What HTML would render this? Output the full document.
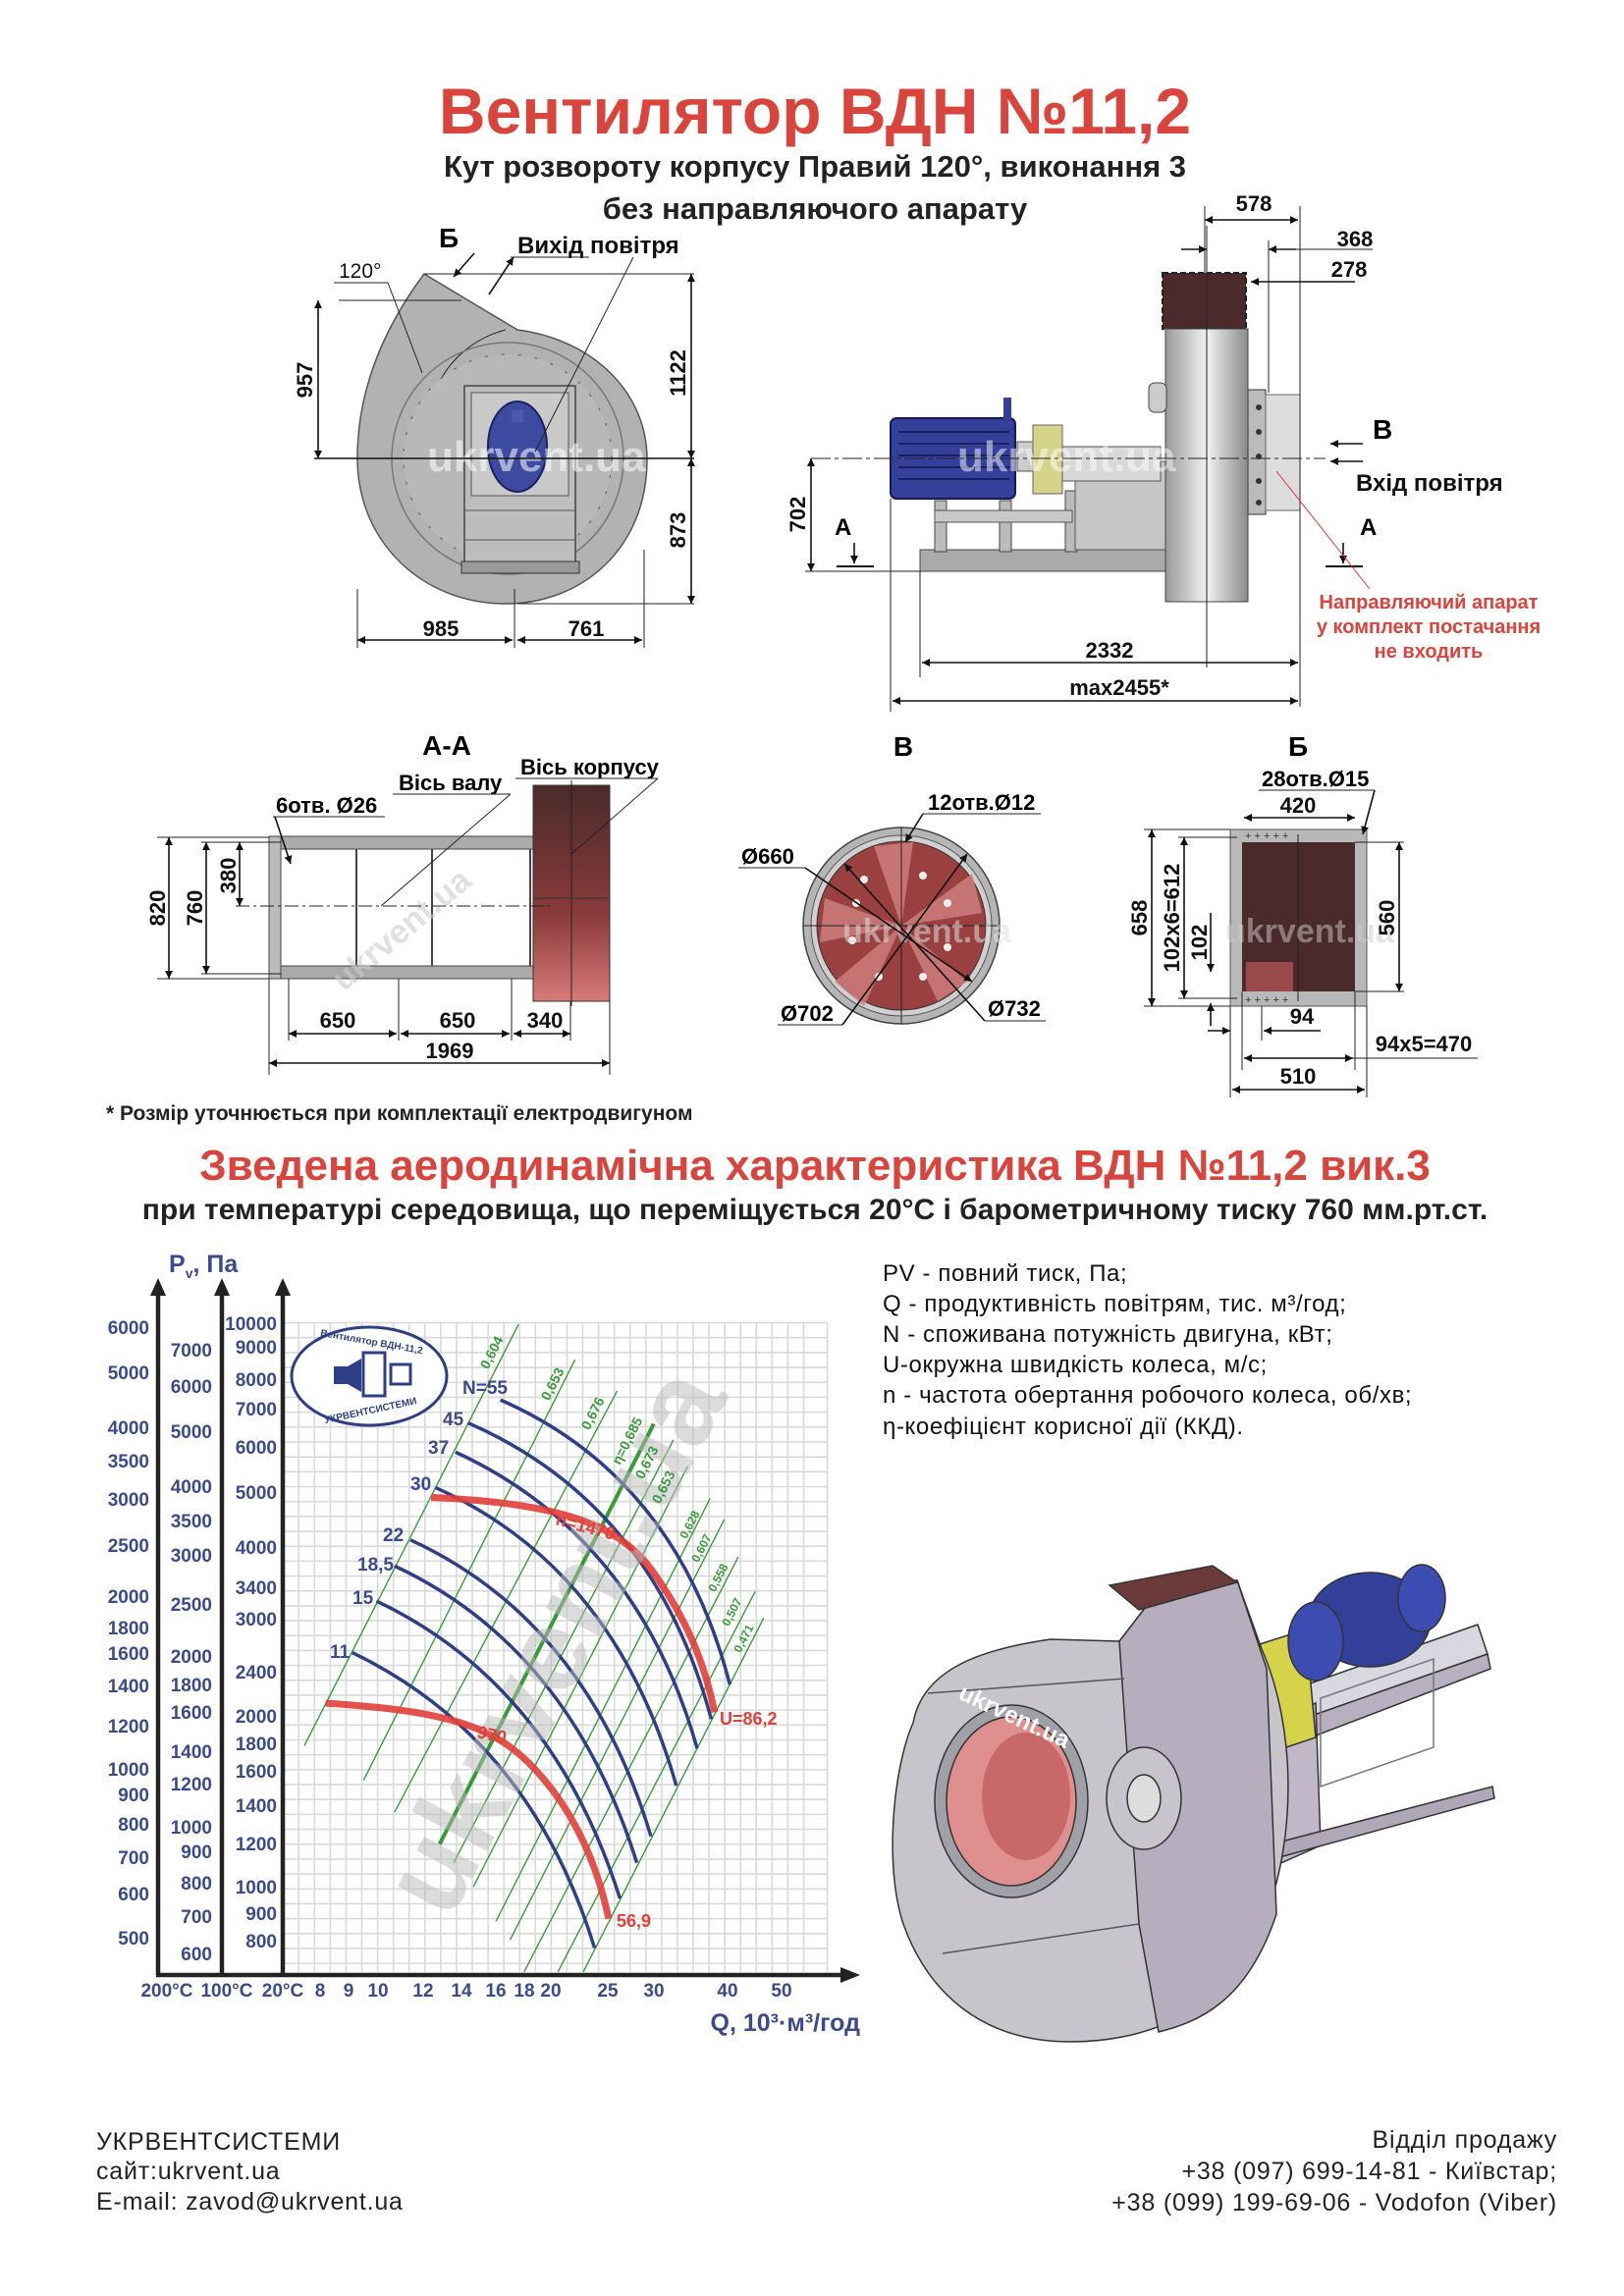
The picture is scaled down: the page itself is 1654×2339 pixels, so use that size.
<!DOCTYPE html>
<html><head><meta charset="utf-8"><style>
html,body{margin:0;padding:0;background:#fff}
svg{display:block}
text{font-family:"Liberation Sans",Arial,sans-serif}
.nv{fill:#3b4a8c;font-weight:bold;font-size:19px}
.dim{font-size:22px;fill:#111;font-weight:bold}
.ln{stroke:#111;stroke-width:1.6;fill:none}
.thin{stroke:#222;stroke-width:1;fill:none}
</style></head><body>
<svg width="1654" height="2339" viewBox="0 0 1654 2339" xmlns="http://www.w3.org/2000/svg">
<defs>
<marker id="ar" viewBox="0 0 10 10" refX="10" refY="5" markerWidth="12" markerHeight="8" orient="auto-start-reverse" markerUnits="userSpaceOnUse"><path d="M0,0 L10,5 L0,10 Z" fill="#111"/></marker>
<linearGradient id="gbrown" x1="0" y1="0" x2="0" y2="1"><stop offset="0" stop-color="#4a2a2a"/><stop offset="0.6" stop-color="#8a3a3a"/><stop offset="1" stop-color="#d87a7a"/></linearGradient>
<linearGradient id="gside" x1="0" y1="0" x2="1" y2="0"><stop offset="0" stop-color="#999"/><stop offset="0.5" stop-color="#f2f2f2"/><stop offset="1" stop-color="#8a8a8a"/></linearGradient>
</defs>

<!-- TITLES -->
<text x="830" y="136" text-anchor="middle" font-size="66" font-weight="bold" fill="#d9443d">Вентилятор  ВДН №11,2</text>
<text x="830" y="180" text-anchor="middle" font-size="31" font-weight="bold" fill="#222">Кут розвороту корпусу Правий 120°, виконання 3</text>
<text x="830" y="223" text-anchor="middle" font-size="31" font-weight="bold" fill="#222">без направляючого апарату</text>

<!-- FRONT VIEW -->
<g>
<path d="M432,279 L527,336 C604,346 660,400 659,470 C658,560 592,615 515,615 C430,615 364,552 364,467 C364,400 388,338 432,279 Z" fill="#b2b2b2" stroke="#555" stroke-width="1.5"/>
<path d="M515,336 C480,345 455,370 445,395" class="thin"/>
<circle cx="517" cy="467" r="118" fill="none" stroke="#777" stroke-width="1.5"/>
<circle cx="517" cy="467" r="106" fill="#b8b8b8" stroke="#666" stroke-width="1.2" stroke-dasharray="3 14"/>
<rect x="473" y="393" width="113" height="190" fill="#bdbdbd" stroke="#444" stroke-width="1.5"/>
<rect x="480" y="400" width="99" height="105" fill="#c9c9c9" stroke="#555"/>
<line x1="473" y1="520" x2="586" y2="520" stroke="#555"/><line x1="473" y1="550" x2="586" y2="550" stroke="#555"/>
<rect x="470" y="572" width="120" height="12" fill="#999" stroke="#333"/>
<ellipse cx="527" cy="455" rx="30" ry="46" fill="#3c4aa0" stroke="#1c2060" stroke-width="2"/>
<rect x="521" y="418" width="12" height="12" fill="#4a58b0"/>
<text x="435" y="480" font-size="44" font-weight="bold" fill="#fff" opacity="0.55">ukrvent.ua</text>
<line x1="320" y1="467" x2="707" y2="467" class="ln"/>
<line x1="432" y1="279" x2="707" y2="279" class="thin"/>
<line x1="345" y1="306" x2="470" y2="306" class="thin"/>
<line x1="527" y1="615" x2="707" y2="615" class="thin"/>
<line x1="324" y1="306" x2="324" y2="467" class="ln" marker-start="url(#ar)" marker-end="url(#ar)"/>
<text transform="translate(318,387) rotate(-90)" text-anchor="middle" class="dim">957</text>
<line x1="704" y1="279" x2="704" y2="467" class="ln" marker-start="url(#ar)" marker-end="url(#ar)"/>
<line x1="704" y1="467" x2="704" y2="615" class="ln" marker-start="url(#ar)" marker-end="url(#ar)"/>
<text transform="translate(698,380) rotate(-90)" text-anchor="middle" class="dim">1122</text>
<text transform="translate(698,540) rotate(-90)" text-anchor="middle" class="dim">873</text>
<line x1="364" y1="600" x2="364" y2="660" class="thin"/><line x1="524" y1="600" x2="524" y2="660" class="thin"/><line x1="656" y1="560" x2="656" y2="660" class="thin"/>
<line x1="364" y1="652" x2="522" y2="652" class="ln" marker-start="url(#ar)" marker-end="url(#ar)"/>
<line x1="527" y1="652" x2="654" y2="652" class="ln" marker-start="url(#ar)" marker-end="url(#ar)"/>
<text x="449" y="648" text-anchor="middle" class="dim">985</text>
<text x="597" y="648" text-anchor="middle" class="dim">761</text>
<text x="447" y="252" font-size="28" font-weight="bold">Б</text>
<line x1="483" y1="258" x2="462" y2="282" class="ln" marker-end="url(#ar)"/>
<text x="527" y="258" font-size="24" fill="#111" font-weight="bold">Вихід повітря</text>
<line x1="523" y1="262" x2="498" y2="300" class="ln" marker-start="url(#ar)"/>
<line x1="520" y1="262" x2="600" y2="262" class="thin"/>
<text x="345" y="283" font-size="21" fill="#111">120°</text>
<line x1="340" y1="288" x2="395" y2="288" class="thin"/>
<line x1="395" y1="288" x2="430" y2="380" class="thin"/>
<line x1="645" y1="262" x2="545" y2="460" class="thin"/>
</g>

<!-- SIDE VIEW -->
<g>
<rect x="937" y="560" width="255" height="22" fill="#aaa" stroke="#444"/>
<rect x="952" y="510" width="12" height="52" fill="#bbb" stroke="#444"/>
<rect x="1018" y="510" width="12" height="52" fill="#bbb" stroke="#444"/>
<rect x="1085" y="500" width="12" height="62" fill="#bbb" stroke="#444"/>
<rect x="952" y="520" width="140" height="12" fill="#c8c8c8" stroke="#555"/>
<rect x="1095" y="470" width="92" height="90" fill="#c5c5c5" stroke="#555"/>
<rect x="907" y="426" width="127" height="82" rx="6" fill="#34409a" stroke="#141a55" stroke-width="2"/>
<g stroke="#1a2060" stroke-width="2"><line x1="915" y1="440" x2="1028" y2="440"/><line x1="915" y1="452" x2="1028" y2="452"/><line x1="915" y1="464" x2="1028" y2="464"/><line x1="915" y1="476" x2="1028" y2="476"/><line x1="915" y1="488" x2="1028" y2="488"/></g>
<rect x="1022" y="405" width="8" height="22" fill="#34409a"/>
<rect x="1036" y="450" width="20" height="30" fill="#ccc" stroke="#555"/>
<rect x="1052" y="433" width="30" height="70" fill="#d6d48a" stroke="#666"/>
<rect x="1082" y="455" width="100" height="35" fill="#d8d8d8" stroke="#555"/>
<rect x="1184" y="278" width="85" height="57" fill="#4a2a2a" stroke="#222" stroke-width="2" stroke-dasharray="6 3"/>
<rect x="1187" y="335" width="84" height="278" fill="url(#gside)" stroke="#444"/>
<line x1="1229" y1="230" x2="1229" y2="680" class="thin"/>
<rect x="1170" y="390" width="18" height="30" rx="6" fill="#ccc" stroke="#444"/>
<rect x="1271" y="397" width="18" height="127" fill="#bbb" stroke="#333"/>
<rect x="1289" y="402" width="35" height="118" fill="#ddd" stroke="#666"/>
<g fill="#333"><circle cx="1282" cy="415" r="3"/><circle cx="1282" cy="440" r="3"/><circle cx="1282" cy="465" r="3"/><circle cx="1282" cy="490" r="3"/><circle cx="1282" cy="512" r="3"/></g>
<text x="975" y="480" font-size="44" font-weight="bold" fill="#fff" opacity="0.5">ukrvent.ua</text>
<line x1="826" y1="467" x2="1350" y2="467" class="thin" stroke-dasharray="20 4 4 4"/>
<line x1="1227" y1="210" x2="1227" y2="278" class="thin"/><line x1="1324" y1="210" x2="1324" y2="720" class="thin"/>
<line x1="1227" y1="224" x2="1322" y2="224" class="ln" marker-start="url(#ar)" marker-end="url(#ar)"/>
<text x="1277" y="215" text-anchor="middle" class="dim">578</text>
<line x1="1203" y1="254" x2="1229" y2="254" class="ln" marker-end="url(#ar)"/><line x1="1320" y1="254" x2="1292" y2="254" class="ln" marker-end="url(#ar)"/>
<line x1="1292" y1="254" x2="1398" y2="254" class="thin"/><line x1="1292" y1="245" x2="1292" y2="400" class="thin"/>
<text x="1380" y="251" text-anchor="middle" class="dim">368</text>
<line x1="1380" y1="287" x2="1274" y2="287" class="ln" marker-end="url(#ar)"/>
<text x="1374" y="282" text-anchor="middle" class="dim">278</text>
<text x="1398" y="447" font-size="28" font-weight="bold">В</text>
<line x1="1388" y1="452" x2="1355" y2="452" class="ln" marker-end="url(#ar)"/>
<line x1="1388" y1="470" x2="1355" y2="470" class="ln" marker-end="url(#ar)"/>
<text x="1381" y="500" font-size="24" fill="#111" font-weight="bold">Вхід повітря</text>
<text x="850" y="545" font-size="24" font-weight="bold">А</text>
<line x1="870" y1="553" x2="870" y2="574" class="ln" marker-end="url(#ar)"/><line x1="852" y1="577" x2="890" y2="577" stroke="#111" stroke-width="2"/>
<text x="1385" y="545" font-size="24" font-weight="bold">А</text>
<line x1="1368" y1="553" x2="1368" y2="574" class="ln" marker-end="url(#ar)"/><line x1="1350" y1="577" x2="1388" y2="577" stroke="#111" stroke-width="2"/>
<line x1="1300" y1="480" x2="1395" y2="600" stroke="#d33" stroke-width="1"/>
<line x1="820" y1="582" x2="937" y2="582" class="thin"/>
<line x1="826" y1="467" x2="826" y2="582" class="ln" marker-start="url(#ar)" marker-end="url(#ar)"/>
<text transform="translate(820,524) rotate(-90)" text-anchor="middle" class="dim">702</text>
<text x="1455" y="620" text-anchor="middle" font-size="20" font-weight="bold" fill="#d9443d">Направляючий апарат</text>
<text x="1455" y="645" text-anchor="middle" font-size="20" font-weight="bold" fill="#d9443d">у комплект постачання</text>
<text x="1455" y="670" text-anchor="middle" font-size="20" font-weight="bold" fill="#d9443d">не входить</text>
<line x1="937" y1="582" x2="937" y2="690" class="thin"/><line x1="907" y1="508" x2="907" y2="725" class="thin"/>
<line x1="939" y1="675" x2="1322" y2="675" class="ln" marker-start="url(#ar)" marker-end="url(#ar)"/>
<text x="1130" y="670" text-anchor="middle" class="dim">2332</text>
<line x1="909" y1="714" x2="1322" y2="714" class="ln" marker-start="url(#ar)" marker-end="url(#ar)"/>
<text x="1140" y="708" text-anchor="middle" class="dim">max2455*</text>
</g>

<text x="455" y="769" text-anchor="middle" font-size="28" font-weight="bold">А-А</text>
<text x="920" y="770" text-anchor="middle" font-size="28" font-weight="bold">В</text>
<text x="1322" y="770" text-anchor="middle" font-size="28" font-weight="bold">Б</text>

<!-- A-A -->
<g>
<rect x="274" y="852" width="269" height="145" fill="#fff" stroke="#555"/>
<rect x="274" y="852" width="269" height="13" fill="#aaa" stroke="#444"/>
<rect x="274" y="984" width="269" height="13" fill="#aaa" stroke="#444"/>
<rect x="274" y="852" width="12" height="145" fill="#bbb" stroke="#444"/>
<line x1="363" y1="865" x2="363" y2="984" stroke="#444" stroke-width="2"/>
<line x1="440" y1="865" x2="440" y2="984" stroke="#444" stroke-width="2"/>
<line x1="540" y1="865" x2="540" y2="984" stroke="#444" stroke-width="2"/>
<rect x="543" y="800" width="78" height="220" fill="url(#gbrown)" stroke="#333"/>
<line x1="582" y1="795" x2="582" y2="1025" class="thin"/>
<line x1="543" y1="915" x2="621" y2="915" stroke="#333"/>
<text x="310" y="960" font-size="34" font-weight="bold" fill="#ccc" opacity="0.6" transform="rotate(-40 400 930)">ukrvent.ua</text>
<line x1="240" y1="923" x2="560" y2="923" class="thin" stroke-dasharray="14 4 3 4"/>
<line x1="160" y1="853" x2="274" y2="853" class="thin"/><line x1="160" y1="997" x2="274" y2="997" class="thin"/>
<line x1="172" y1="853" x2="172" y2="997" class="ln" marker-start="url(#ar)" marker-end="url(#ar)"/>
<text transform="translate(168,925) rotate(-90)" text-anchor="middle" class="dim">820</text>
<line x1="205" y1="858" x2="286" y2="858" class="thin"/><line x1="205" y1="992" x2="286" y2="992" class="thin"/>
<line x1="210" y1="858" x2="210" y2="992" class="ln" marker-start="url(#ar)" marker-end="url(#ar)"/>
<text transform="translate(206,925) rotate(-90)" text-anchor="middle" class="dim">760</text>
<line x1="244" y1="858" x2="244" y2="923" class="ln" marker-start="url(#ar)" marker-end="url(#ar)"/>
<text transform="translate(240,892) rotate(-90)" text-anchor="middle" class="dim">380</text>
<text x="281" y="828" font-size="22" font-weight="bold">6отв. Ø26</text><line x1="278" y1="832" x2="392" y2="832" class="thin"/>
<line x1="280" y1="832" x2="296" y2="880" class="ln" marker-end="url(#ar)"/>
<text x="406" y="805" font-size="22" font-weight="bold">Вісь валу</text><line x1="400" y1="809" x2="520" y2="809" class="thin"/>
<line x1="520" y1="809" x2="388" y2="923" class="thin"/>
<text x="530" y="789" font-size="22" font-weight="bold">Вісь корпусу</text><line x1="525" y1="793" x2="670" y2="793" class="thin"/>
<line x1="670" y1="793" x2="582" y2="870" class="thin"/>
<g class="thin"><line x1="274" y1="997" x2="274" y2="1095"/><line x1="294" y1="997" x2="294" y2="1060"/><line x1="406" y1="997" x2="406" y2="1060"/><line x1="521" y1="997" x2="521" y2="1060"/><line x1="581" y1="1020" x2="581" y2="1060"/><line x1="621" y1="1020" x2="621" y2="1095"/></g>
<line x1="294" y1="1053" x2="404" y2="1053" class="ln" marker-start="url(#ar)" marker-end="url(#ar)"/>
<line x1="408" y1="1053" x2="519" y2="1053" class="ln" marker-start="url(#ar)" marker-end="url(#ar)"/>
<line x1="523" y1="1053" x2="581" y2="1053" class="ln" marker-start="url(#ar)" marker-end="url(#ar)"/>
<text x="344" y="1047" text-anchor="middle" class="dim">650</text>
<text x="466" y="1047" text-anchor="middle" class="dim">650</text>
<text x="555" y="1047" text-anchor="middle" class="dim">340</text>
<line x1="274" y1="1083" x2="621" y2="1083" class="ln" marker-start="url(#ar)" marker-end="url(#ar)"/>
<text x="458" y="1078" text-anchor="middle" class="dim">1969</text>
</g>

<!-- B view -->
<g>
<circle cx="918" cy="943" r="100" fill="#b5b5b5" stroke="#444" stroke-width="1.5"/>
<circle cx="918" cy="943" r="92" fill="#d0d0d0" stroke="#555"/>
<circle cx="918" cy="943" r="86" fill="#9b4040" stroke="#333"/>
<g fill="#d08080" opacity="0.8">
<path d="M918,943 L890,862 L930,858 Z"/><path d="M918,943 L990,890 L1000,930 Z"/><path d="M918,943 L985,1000 L955,1020 Z"/><path d="M918,943 L880,1025 L850,1000 Z"/><path d="M918,943 L835,960 L840,915 Z"/>
</g>
<g fill="#eee"><circle cx="880" cy="896" r="4"/><circle cx="940" cy="892" r="4"/><circle cx="965" cy="920" r="4"/><circle cx="965" cy="965" r="4"/><circle cx="940" cy="995" r="4"/><circle cx="895" cy="995" r="4"/><circle cx="868" cy="958" r="4"/><circle cx="872" cy="920" r="4"/></g>
<line x1="918" y1="843" x2="918" y2="1043" class="thin"/><line x1="818" y1="943" x2="1018" y2="943" class="thin"/>
<text x="858" y="960" font-size="34" font-weight="bold" fill="#ddd" opacity="0.55">ukrvent.ua</text>
<text x="755" y="880" font-size="22" font-weight="bold">Ø660</text><line x1="752" y1="884" x2="820" y2="884" class="thin"/>
<line x1="820" y1="884" x2="990" y2="1000" class="ln" marker-end="url(#ar)"/>
<text x="945" y="825" font-size="22" font-weight="bold">12отв.Ø12</text><line x1="940" y1="829" x2="1060" y2="829" class="thin"/>
<line x1="940" y1="829" x2="922" y2="858" class="ln" marker-end="url(#ar)"/>
<text x="795" y="1040" font-size="22" font-weight="bold">Ø702</text><line x1="792" y1="1044" x2="858" y2="1044" class="thin"/>
<line x1="858" y1="1044" x2="985" y2="870" class="ln" marker-end="url(#ar)"/>
<text x="1006" y="1035" font-size="22" font-weight="bold">Ø732</text><line x1="1003" y1="1040" x2="1065" y2="1040" class="thin"/>
<line x1="1003" y1="1040" x2="860" y2="880" class="ln" marker-end="url(#ar)"/>
</g>

<!-- Б view -->
<g>
<rect x="1253" y="845" width="139" height="180" fill="#b8b8b8" stroke="#555"/>
<rect x="1265" y="858" width="115" height="152" fill="#4a2a2a"/>
<rect x="1269" y="980" width="48" height="30" fill="#9a4a4a"/>
<line x1="1322" y1="850" x2="1322" y2="1020" class="thin" stroke="#aaa"/>
<g fill="#333" font-size="11"><text x="1268" y="855">+   +   +   +   +</text><text x="1268" y="1022">+   +   +   +   +</text></g>
<text x="1248" y="960" font-size="34" font-weight="bold" fill="#ccc" opacity="0.5">ukrvent.ua</text>
<text x="1285" y="801" font-size="22" font-weight="bold">28отв.Ø15</text><line x1="1282" y1="805" x2="1400" y2="805" class="thin"/>
<line x1="1400" y1="805" x2="1388" y2="850" class="ln" marker-end="url(#ar)"/>
<line x1="1267" y1="833" x2="1380" y2="833" class="ln" marker-start="url(#ar)" marker-end="url(#ar)"/>
<text x="1322" y="828" text-anchor="middle" class="dim">420</text>
<g class="thin"><line x1="1165" y1="845" x2="1253" y2="845"/><line x1="1165" y1="1025" x2="1253" y2="1025"/><line x1="1200" y1="853" x2="1260" y2="853"/><line x1="1200" y1="1017" x2="1260" y2="1017"/><line x1="1380" y1="858" x2="1430" y2="858"/><line x1="1380" y1="1010" x2="1430" y2="1010"/></g>
<line x1="1173" y1="845" x2="1173" y2="1025" class="ln" marker-start="url(#ar)" marker-end="url(#ar)"/>
<text transform="translate(1168,935) rotate(-90)" text-anchor="middle" class="dim">658</text>
<line x1="1206" y1="853" x2="1206" y2="1017" class="ln" marker-start="url(#ar)" marker-end="url(#ar)"/>
<text transform="translate(1201,935) rotate(-90)" text-anchor="middle" class="dim">102x6=612</text>
<line x1="1233" y1="930" x2="1233" y2="990" class="ln" marker-end="url(#ar)"/>
<line x1="1233" y1="1045" x2="1233" y2="1022" class="ln" marker-end="url(#ar)"/>
<text transform="translate(1229,960) rotate(-90)" text-anchor="middle" class="dim">102</text>
<line x1="1425" y1="858" x2="1425" y2="1010" class="ln" marker-start="url(#ar)" marker-end="url(#ar)"/>
<text transform="translate(1420,935) rotate(-90)" text-anchor="middle" class="dim">560</text>
<g class="thin"><line x1="1253" y1="1025" x2="1253" y2="1118"/><line x1="1392" y1="1025" x2="1392" y2="1118"/><line x1="1265" y1="1010" x2="1265" y2="1090"/><line x1="1380" y1="1010" x2="1380" y2="1090"/><line x1="1285" y1="1025" x2="1285" y2="1060"/></g>
<line x1="1230" y1="1050" x2="1253" y2="1050" class="ln" marker-end="url(#ar)"/>
<line x1="1345" y1="1050" x2="1287" y2="1050" class="ln" marker-end="url(#ar)"/>
<text x="1326" y="1043" text-anchor="middle" class="dim">94</text>
<line x1="1267" y1="1078" x2="1378" y2="1078" class="ln" marker-start="url(#ar)" marker-end="url(#ar)"/>
<line x1="1378" y1="1078" x2="1505" y2="1078" class="thin"/>
<text x="1450" y="1071" text-anchor="middle" class="dim">94x5=470</text>
<line x1="1255" y1="1110" x2="1390" y2="1110" class="ln" marker-start="url(#ar)" marker-end="url(#ar)"/>
<text x="1322" y="1104" text-anchor="middle" class="dim">510</text>
</g>

<text x="108" y="1141" font-size="21" font-weight="bold" fill="#222">* Розмір уточнюється при комплектації електродвигуном</text>
<text x="830" y="1202" text-anchor="middle" font-size="44" font-weight="bold" fill="#d9443d">Зведена аеродинамічна характеристика ВДН №11,2 вик.3</text>
<text x="830" y="1242" text-anchor="middle" font-size="30" font-weight="bold" fill="#222">при температурі середовища, що переміщується 20°C і барометричному тиску 760 мм.рт.ст.</text>

<!-- CHART -->
<g transform="translate(0,1250) scale(0.5740,0.5420)">
<g stroke="#d9d9d9" stroke-width="1.6">
<path vector-effect="non-scaling-stroke" d="M530,180V1400M558,180V1400M586,180V1400M614,180V1400M642,180V1400M670,180V1400M698,180V1400M726,180V1400M754,180V1400M782,180V1400M810,180V1400M838,180V1400M866,180V1400M894,180V1400M922,180V1400M950,180V1400M978,180V1400M1006,180V1400M1034,180V1400M1062,180V1400M1090,180V1400M1118,180V1400M1146,180V1400M1174,180V1400M1202,180V1400M1230,180V1400M1258,180V1400M1286,180V1400M1314,180V1400M1342,180V1400M1370,180V1400M1398,180V1400M1426,180V1400M1468,180V1400"/>
<path vector-effect="non-scaling-stroke" d="M502,180H1468M502,208H1468M502,236H1468M502,264H1468M502,292H1468M502,320H1468M502,348H1468M502,376H1468M502,404H1468M502,432H1468M502,460H1468M502,488H1468M502,516H1468M502,544H1468M502,572H1468M502,600H1468M502,628H1468M502,656H1468M502,684H1468M502,712H1468M502,740H1468M502,768H1468M502,796H1468M502,824H1468M502,852H1468M502,880H1468M502,908H1468M502,936H1468M502,964H1468M502,992H1468M502,1020H1468M502,1048H1468M502,1076H1468M502,1104H1468M502,1132H1468M502,1160H1468M502,1188H1468M502,1216H1468M502,1244H1468M502,1272H1468M502,1300H1468M502,1328H1468M502,1356H1468M502,1384H1468"/>
</g>
<g fill="none" stroke="#3a9a3a" stroke-width="1.4">
<path vector-effect="non-scaling-stroke" d="M540,975L920,183M645,1040L1020,250M700,1100L1095,308M805,1195L1195,400M840,1240L1220,450M880,1305L1260,510M905,1340L1285,550M930,1400L1310,620M990,1400L1340,685M1035,1400L1355,735"/>
</g>
<path vector-effect="non-scaling-stroke" d="M780,1160L1160,370" stroke="#3a9a3a" stroke-width="4" fill="none"/>
<g fill="none" stroke="#2e3f85" stroke-width="3.5">
<path vector-effect="non-scaling-stroke" d="M888,325 Q1200,470 1295,860"/>
<path vector-effect="non-scaling-stroke" d="M830,368 Q1160,520 1262,925"/>
<path vector-effect="non-scaling-stroke" d="M808,423 Q1130,580 1237,980"/>
<path vector-effect="non-scaling-stroke" d="M773,490 Q1090,640 1200,1050"/>
<path vector-effect="non-scaling-stroke" d="M728,588 Q1040,740 1155,1145"/>
<path vector-effect="non-scaling-stroke" d="M700,637 Q1010,790 1130,1195"/>
<path vector-effect="non-scaling-stroke" d="M668,703 Q980,860 1100,1262"/>
<path vector-effect="non-scaling-stroke" d="M625,800 Q940,960 1055,1355"/>
</g>
<g fill="none" stroke="#e0403a" stroke-width="7" opacity="0.9">
<path vector-effect="non-scaling-stroke" d="M765,508 C1000,520 1100,560 1160,650 C1220,740 1250,820 1268,912"/>
<path vector-effect="non-scaling-stroke" d="M578,895 C800,910 880,940 950,1020 C1020,1100 1060,1200 1080,1300"/>
</g>
</g>
<text transform="translate(600,1690) rotate(-62)" text-anchor="middle" font-size="120" font-weight="bold" fill="#bbb" opacity="0.5">ukrvent.ua</text>

<!-- logo -->
<g>
<ellipse cx="376" cy="1402" rx="79" ry="50" fill="#fff" stroke="#2e3f85" stroke-width="3"/>
<g fill="#2e3f85"><rect x="340" y="1392" width="14" height="18"/><path d="M354,1392 L368,1384 L368,1418 L354,1410 Z"/><rect x="370" y="1378" width="22" height="44" fill="none" stroke="#2e3f85" stroke-width="3"/><rect x="398" y="1390" width="20" height="20" fill="none" stroke="#2e3f85" stroke-width="3"/></g>
<text x="378" y="1370" text-anchor="middle" font-size="10" font-weight="bold" fill="#2e3f85" transform="rotate(10 378 1370)">Вентилятор ВДН-11,2</text>
<text x="378" y="1440" text-anchor="middle" font-size="10" font-weight="bold" fill="#2e3f85" transform="rotate(-12 378 1440)">УКРВЕНТСИСТЕМИ</text>
</g>

<!-- axes -->
<g stroke="#222" stroke-width="4.5">
<line x1="161" y1="1315" x2="161" y2="2012"/><line x1="226" y1="1315" x2="226" y2="2012"/><line x1="288" y1="1315" x2="288" y2="2012"/>
<line x1="159" y1="2012" x2="860" y2="2012"/>
</g>
<g fill="#222"><path d="M153,1320 L161,1302 L169,1320Z"/><path d="M218,1320 L226,1302 L234,1320Z"/><path d="M280,1320 L288,1302 L296,1320Z"/><path d="M856,2004 L876,2012 L856,2020Z"/></g>
<text x="172" y="1296" font-size="25" font-weight="bold" fill="#3b4a8c">P<tspan font-size="14" dy="6">v</tspan><tspan dy="-6">, Па</tspan></text>
<g class="nv" text-anchor="end">
<text x="152" y="1359">6000</text><text x="152" y="1405">5000</text><text x="152" y="1461">4000</text><text x="152" y="1495">3500</text><text x="152" y="1534">3000</text><text x="152" y="1581">2500</text><text x="152" y="1633">2000</text><text x="152" y="1665">1800</text><text x="152" y="1691">1600</text><text x="152" y="1724">1400</text><text x="152" y="1765">1200</text><text x="152" y="1809">1000</text><text x="152" y="1835">900</text><text x="152" y="1865">800</text><text x="152" y="1899">700</text><text x="152" y="1936">600</text><text x="152" y="1981">500</text>
<text x="216" y="1382">7000</text><text x="216" y="1419">6000</text><text x="216" y="1465">5000</text><text x="216" y="1521">4000</text><text x="216" y="1556">3500</text><text x="216" y="1591">3000</text><text x="216" y="1641">2500</text><text x="216" y="1694">2000</text><text x="216" y="1723">1800</text><text x="216" y="1751">1600</text><text x="216" y="1791">1400</text><text x="216" y="1824">1200</text><text x="216" y="1868">1000</text><text x="216" y="1893">900</text><text x="216" y="1925">800</text><text x="216" y="1959">700</text><text x="216" y="1997">600</text>
<text x="282" y="1355">10000</text><text x="282" y="1379">9000</text><text x="282" y="1412">8000</text><text x="282" y="1442">7000</text><text x="282" y="1481">6000</text><text x="282" y="1527">5000</text><text x="282" y="1583">4000</text><text x="282" y="1624">3400</text><text x="282" y="1656">3000</text><text x="282" y="1710">2400</text><text x="282" y="1755">2000</text><text x="282" y="1783">1800</text><text x="282" y="1811">1600</text><text x="282" y="1846">1400</text><text x="282" y="1885">1200</text><text x="282" y="1929">1000</text><text x="282" y="1956">900</text><text x="282" y="1984">800</text>
</g>
<g class="nv" text-anchor="middle" font-size="18">
<text x="170" y="2034">200°C</text><text x="231" y="2034">100°C</text><text x="288" y="2034">20°C</text><text x="326" y="2034">8</text><text x="355" y="2034">9</text><text x="385" y="2034">10</text><text x="431" y="2034">12</text><text x="470" y="2034">14</text><text x="505" y="2034">16</text><text x="534" y="2034">18</text><text x="561" y="2034">20</text><text x="619" y="2034">25</text><text x="666" y="2034">30</text><text x="741" y="2034">40</text><text x="796" y="2034">50</text>
</g>
<text x="876" y="2069" text-anchor="end" font-size="25" font-weight="bold" fill="#3b4a8c">Q, 10³·м³/год</text>
<g class="nv" font-size="18">
<text x="471" y="1420">N=55</text><text x="451" y="1452">45</text><text x="436" y="1481">37</text><text x="418" y="1518">30</text><text x="390" y="1570">22</text><text x="364" y="1600">18,5</text><text x="359" y="1634">15</text><text x="336" y="1689">11</text>
</g>
<g font-weight="bold" font-size="18" fill="#e0403a">
<text x="565" y="1553" transform="rotate(15 565 1553)">n=1470</text>
<text x="485" y="1770" transform="rotate(12 485 1770)">970</text>
<text x="733" y="1757">U=86,2</text>
<text x="628" y="1963">56,9</text>
</g>
<g font-weight="bold" font-size="14" fill="#3a9a3a" text-anchor="middle">
<text transform="translate(505,1380) rotate(-63)">0,604</text>
<text transform="translate(567,1412) rotate(-63)">0,653</text>
<text transform="translate(608,1442) rotate(-63)">0,676</text>
<text transform="translate(643,1470) rotate(-63)">η=0,685</text>
<text transform="translate(663,1492) rotate(-63)">0,673</text>
<text transform="translate(680,1517) rotate(-63)">0,653</text>
<text transform="translate(706,1555) rotate(-63)" font-size="12">0,628</text>
<text transform="translate(718,1579) rotate(-63)" font-size="12">0,607</text>
<text transform="translate(735,1609) rotate(-63)" font-size="12">0,558</text>
<text transform="translate(749,1644) rotate(-63)" font-size="12">0,507</text>
<text transform="translate(761,1671) rotate(-63)" font-size="12">0,471</text>
</g>

<!-- LEGEND -->
<g font-size="24" fill="#111" letter-spacing="0.6">
<text x="899" y="1305">PV - повний тиск, Па;</text>
<text x="899" y="1336">Q - продуктивність повітрям, тис. м³/год;</text>
<text x="899" y="1367">N - споживана потужність двигуна, кВт;</text>
<text x="899" y="1398">U-окружна швидкість колеса, м/с;</text>
<text x="899" y="1429">n - частота обертання робочого колеса, об/хв;</text>
<text x="899" y="1461">η-коефіцієнт корисної дії (ККД).</text>
</g>

<!-- 3D render -->
<g stroke="#333" stroke-width="1.5">
<path d="M1320,1720 L1505,1655 L1515,1685 L1330,1750 Z" fill="#d8d8e0"/>
<path d="M1330,1750 L1515,1685 L1518,1700 L1335,1770 Z" fill="#b8b0c0"/>
<path d="M1345,1730 L1460,1690 L1460,1780 L1345,1820 Z" fill="none" stroke="#777"/>
<path d="M1290,1760 L1340,1735 L1345,1880 L1300,1900 Z" fill="#c0b8c8"/>
<path d="M1290,1880 L1520,1820 L1522,1832 L1292,1895 Z" fill="#b0a8b8"/>
<path d="M1283,1675 L1330,1660 L1340,1770 L1295,1785 Z" fill="#d6d24a"/>
<ellipse cx="1395" cy="1650" rx="62" ry="48" fill="#33409a"/>
<ellipse cx="1340" cy="1672" rx="28" ry="40" fill="#3c4cb0"/>
<ellipse cx="1448" cy="1628" rx="24" ry="34" fill="#3c4cb0"/>
<path d="M930,1755 C940,1700 1000,1680 1070,1670 L1140,1672 L1180,1620 L1260,1610 L1285,1680 C1320,1760 1320,1870 1290,1950 C1260,2040 1180,2080 1090,2080 C1000,2080 945,2030 920,1960 C900,1900 910,1800 930,1755 Z" fill="#c8c4cc"/>
<path d="M1140,1672 L1180,1620 L1260,1610 L1290,1700 L1300,1950 C1270,2040 1220,2060 1180,2070 L1160,1960 Z" fill="#b6aebe"/>
<path d="M1130,1615 L1235,1595 L1260,1612 L1160,1640 Z" fill="#6b3b3b"/>
<ellipse cx="1030" cy="1835" rx="78" ry="98" fill="#a0a0a8"/>
<ellipse cx="1030" cy="1835" rx="66" ry="86" fill="#e08f8f"/>
<ellipse cx="1045" cy="1830" rx="45" ry="65" fill="#c86868" stroke="none"/>
<ellipse cx="1165" cy="1832" rx="38" ry="52" fill="#c8c4cc"/>
<ellipse cx="1165" cy="1832" rx="17" ry="24" fill="#ddd"/>
<line x1="945" y1="1725" x2="1145" y2="1710" stroke="#555"/>
<line x1="960" y1="1990" x2="1160" y2="1960" stroke="#555"/>
</g>
<text x="975" y="1730" font-size="24" font-weight="bold" fill="#fff" transform="rotate(25 975 1730)">ukrvent.ua</text>

<!-- FOOTER -->
<g font-size="25" fill="#222" letter-spacing="0.8">
<text x="98" y="2190">УКРВЕНТСИСТЕМИ</text>
<text x="98" y="2220">сайт:ukrvent.ua</text>
<text x="98" y="2251">E-mail: zavod@ukrvent.ua</text>
<text x="1586" y="2188" text-anchor="end">Відділ продажу</text>
<text x="1586" y="2220" text-anchor="end">+38 (097) 699-14-81 - Київстар;</text>
<text x="1586" y="2252" text-anchor="end">+38 (099) 199-69-06 - Vodofon (Viber)</text>
</g>
</svg>
</body></html>
